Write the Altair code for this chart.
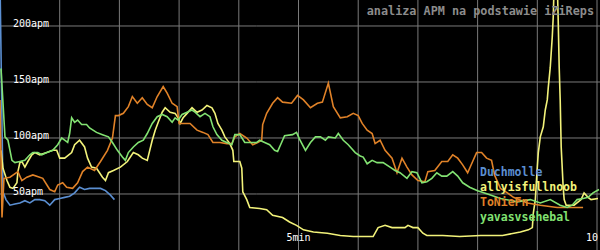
import altair as alt
import pandas as pd

# ---- data (time in seconds, APM) ----
duch_t = [0, 3, 6, 10, 15, 20, 25, 30, 35, 40, 45, 50, 55, 60, 65, 70, 75, 80, 85, 90, 95, 101, 106, 111, 115]
duch_v = [240, 52, 45, 40, 41, 42, 44, 42, 45, 45, 44, 40, 45, 46, 47, 48, 51, 56, 54, 55, 55, 55, 53, 49, 45]

ally_t = [1, 3, 7, 10, 13, 17, 18, 20, 22, 25, 28, 32, 35, 40, 47, 53, 57, 60, 65, 72, 75, 80, 85, 88, 92, 97,
          103, 106, 109, 114, 121, 128, 134, 139, 143, 148, 153, 156, 159, 163, 166, 171, 176, 179, 181, 184,
          188, 193, 198, 203, 208, 213, 216, 219, 223, 226, 231, 234, 235, 241, 243, 244, 248, 251, 261, 268,
          274, 284, 291, 298, 305, 315, 329, 342, 355, 375, 380, 387, 394, 400, 407, 410, 415, 420, 425, 429,
          445, 462, 483, 505, 523, 531, 535, 536, 538, 540, 541, 543, 546, 548, 550, 551, 553, 555, 556, 557,
          560, 561, 562, 563, 564, 566, 567, 569, 577, 584, 587, 591, 594, 601]
ally_v = [89, 73, 62, 56, 55, 60, 70, 78, 79, 74, 79, 85, 87, 85, 87, 89, 89, 82, 82, 87, 94, 98, 92, 82, 74, 73,
          65, 62, 69, 71, 74, 79, 87, 85, 82, 80, 98, 107, 114, 123, 127, 123, 122, 118, 113, 118,
          122, 127, 123, 125, 129, 127, 122, 113, 107, 101, 95, 89, 79, 79, 73, 52, 45, 38, 37, 36,
          31, 29, 25, 22, 18, 16, 15, 13, 12, 12, 20, 22, 20, 20, 20, 22, 20, 20, 15, 13,
          13, 12, 13, 13, 16, 18, 20, 33, 45, 74, 87, 101, 110, 125, 134, 145, 163, 190, 208, 240,
          240, 205, 163, 134, 92, 56, 45, 40, 40, 45, 51, 47, 45, 46]

toni_t = [0, 2, 4, 10, 18, 22, 27, 33, 43, 50, 55, 58, 63, 67, 73, 78, 83, 88, 95, 101, 108, 113, 116, 119, 124,
          129, 133, 138, 143, 148, 153, 158, 164, 168, 173, 178, 180, 183, 191, 198, 204, 209, 214, 221, 228,
          233, 236, 241, 248, 254, 259, 263, 264, 268, 274, 279, 284, 293, 299, 305, 312, 319, 324, 330, 335,
          342, 349, 355, 360, 364, 369, 374, 377, 382, 387, 394, 399, 404, 409, 414, 420, 427, 430, 437, 444,
          450, 455, 460, 465, 470, 475, 479, 484, 489, 494, 497, 503, 510, 516, 530, 543, 560, 573, 586]
toni_v = [134, 29, 64, 65, 70, 62, 65, 67, 64, 54, 52, 58, 60, 56, 55, 60, 70, 74, 71, 79, 89, 100, 120, 120, 122,
          128, 137, 131, 136, 130, 127, 137, 146, 140, 131, 128, 113, 113, 113, 107, 105, 103, 96, 96, 95,
          95, 101, 104, 100, 94, 96, 98, 112, 122, 131, 136, 132, 131, 138, 134, 127, 131, 132, 149, 128,
          118, 119, 122, 120, 113, 107, 104, 95, 98, 89, 82, 69, 82, 74, 67, 62, 61, 70, 71, 79,
          79, 85, 82, 76, 69, 79, 87, 87, 82, 80, 67, 55, 51, 47, 42, 40, 38, 38, 38]

yava_t = [1, 5, 8, 12, 15, 20, 25, 30, 33, 38, 42, 47, 53, 58, 62, 65, 68, 70, 72, 75, 78, 82, 87, 90, 97, 103,
          109, 113, 118, 123, 126, 129, 134, 139, 144, 148, 153, 158, 163, 168, 173, 176, 179, 183, 188, 193,
          196, 201, 206, 211, 214, 218, 223, 228, 233, 236, 241, 246, 251, 258, 261, 266, 271, 276, 279, 283,
          286, 294, 298, 301, 307, 312, 317, 322, 327, 330, 337, 340, 345, 350, 357, 362, 365, 369, 374, 379,
          385, 392, 397, 402, 409, 414, 419, 424, 429, 434, 439, 444, 449, 455, 460, 465, 472, 480, 490, 503,
          520, 533, 543, 553, 563, 570, 575, 580, 586, 591, 596, 602]
yava_v = [162, 101, 98, 80, 78, 79, 80, 85, 87, 87, 85, 87, 89, 94, 100, 98, 96, 104, 118, 114, 116, 112, 112, 109, 105, 103,
          101, 96, 89, 83, 80, 87, 92, 96, 98, 104, 113, 119, 121, 119, 114, 118, 116, 121, 123, 125,
          123, 119, 122, 119, 110, 103, 98, 96, 94, 103, 103, 96, 96, 96, 98, 96, 94, 89, 88, 96,
          102, 103, 105, 99, 89, 96, 101, 101, 98, 101, 100, 104, 98, 94, 87, 84, 83, 77, 80, 78,
          78, 74, 71, 69, 64, 70, 69, 60, 61, 64, 69, 66, 66, 70, 66, 60, 56, 53, 50, 46,
          43, 45, 42, 45, 40, 38, 40, 45, 46, 47, 51, 54]

names = ["Duchmolle", "allyisfullnoob", "ToNieFn", "yavasvsehebal"]
colors = ["#5b8fd2", "#f2f27a", "#e08228", "#82e272"]

ylab_vals = [50, 100, 150, 200]
ylab_text = ["50apm", "100apm", "150apm", "200apm"]
xgrid = [60, 120, 180, 240, 300, 360, 420, 480, 540, 600]
ygrid = [50, 100, 150, 200]
title_text = "analiza APM na podstawie iZiReps"

rows = []
for n, ts, vs in zip(names, [duch_t, ally_t, toni_t, yava_t], [duch_v, ally_v, toni_v, yava_v]):
    for i, (t, v) in enumerate(zip(ts, vs)):
        rows.append({"player": n, "t": t, "apm": v, "i": i})
df = pd.DataFrame(rows)

W, H = 600, 250
xs = alt.Scale(domain=[0, 603], nice=False, zero=False)
ys = alt.Scale(domain=[0, 223.2], nice=False, zero=False)

vgrid = alt.Chart(pd.DataFrame({"t": xgrid})).mark_rule(color="#7a7a7a", strokeWidth=1).encode(
    x=alt.X("t:Q", scale=xs, axis=None))
hgrid = alt.Chart(pd.DataFrame({"apm": ygrid})).mark_rule(color="#7a7a7a", strokeWidth=1).encode(
    y=alt.Y("apm:Q", scale=ys, axis=None))

lines = alt.Chart(df).mark_line(strokeWidth=1.6, clip=True, interpolate="linear").encode(
    x=alt.X("t:Q", scale=xs, axis=None),
    y=alt.Y("apm:Q", scale=ys, axis=None),
    color=alt.Color("player:N", scale=alt.Scale(domain=names, range=colors), legend=None),
    order=alt.Order("i:Q"),
)

ylabels = alt.Chart(pd.DataFrame({"apm": ylab_vals, "txt": ylab_text})).mark_text(
    align="left", baseline="alphabetic", font="DejaVu Sans Mono", fontSize=10, color="white", dy=1
).encode(x=alt.value(13), y=alt.Y("apm:Q", scale=ys, axis=None), text="txt:N")

xlab5 = alt.Chart(pd.DataFrame({"t": [300], "txt": ["5min"]})).mark_text(
    align="center", baseline="alphabetic", font="DejaVu Sans Mono", fontSize=10, color="white"
).encode(x=alt.X("t:Q", scale=xs, axis=None), y=alt.value(241), text="txt:N")
xlab10 = alt.Chart(pd.DataFrame({"txt": ["10"]})).mark_text(
    align="right", baseline="alphabetic", font="DejaVu Sans Mono", fontSize=10, color="white"
).encode(x=alt.value(598), y=alt.value(241), text="txt:N")

title = alt.Chart(pd.DataFrame({"txt": [title_text]})).mark_text(
    align="right", baseline="alphabetic", font="DejaVu Sans Mono", fontSize=11.8, fontWeight="bold",
    color="#8c8c8c"
).encode(x=alt.value(594), y=alt.value(15), text="txt:N")

legend_layers = []
for k, (n, c) in enumerate(zip(names, colors)):
    legend_layers.append(
        alt.Chart(pd.DataFrame({"txt": [n]})).mark_text(
            align="left", baseline="alphabetic", font="DejaVu Sans Mono", fontSize=11.5,
            fontWeight="bold", color=c
        ).encode(x=alt.value(480), y=alt.value(176 + 15 * k), text="txt:N")
    )

chart = alt.layer(vgrid, hgrid, lines, ylabels, xlab5, xlab10, title, *legend_layers).properties(
    width=W, height=H, padding=0, autosize="none", background="black"
).configure_view(stroke=None)

chart.save("out.html", embed_options={"renderer": "svg", "actions": False})
